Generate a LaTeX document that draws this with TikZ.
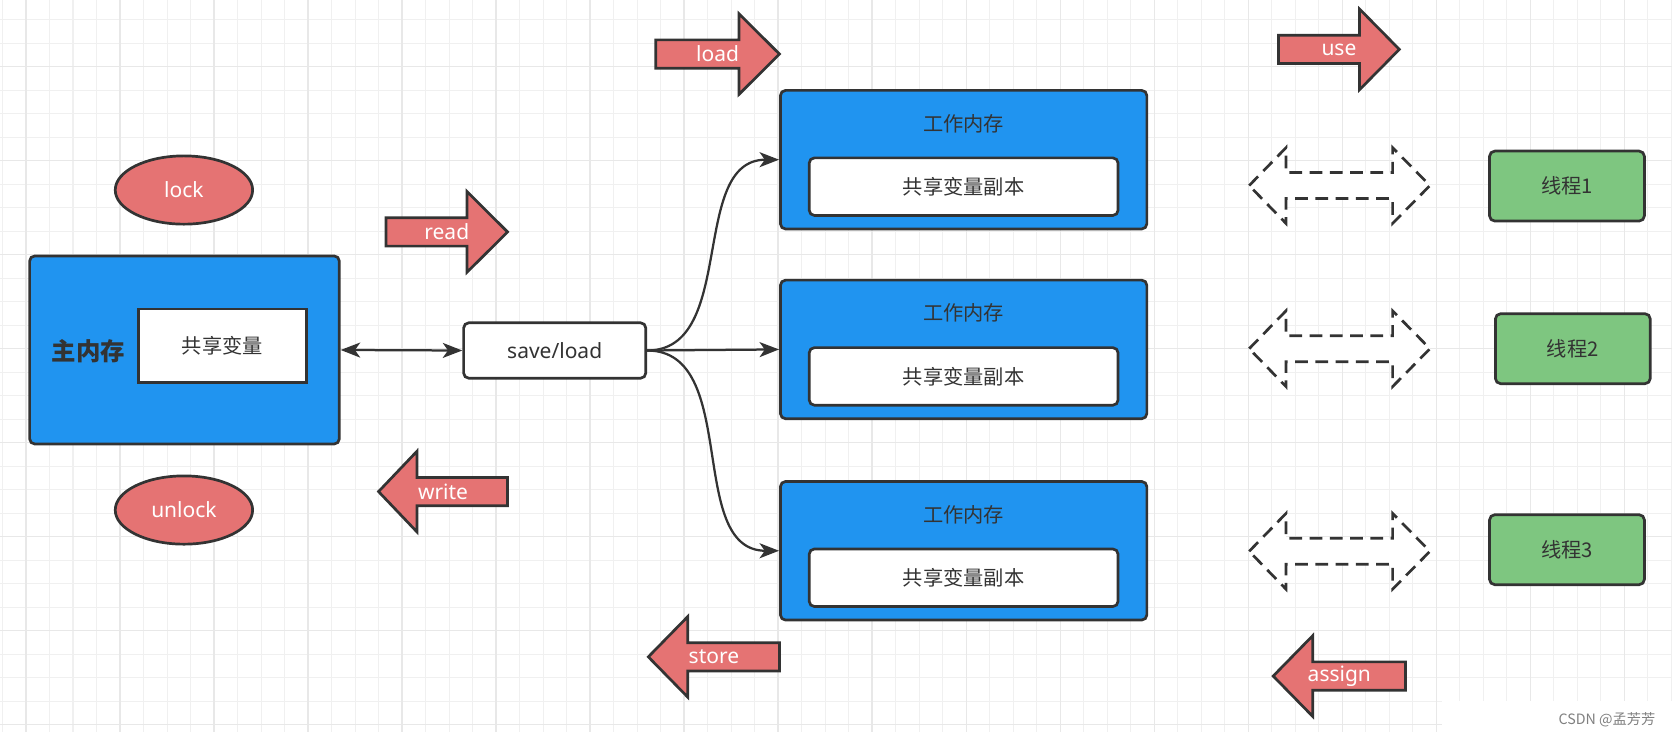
\documentclass[tikz,border=0pt]{standalone}
\usepackage{fontspec}
\setmainfont{Noto Sans}
\newfontfamily\cjk{Noto Sans CJK SC}
\usetikzlibrary{arrows.meta,calc,positioning,shapes.geometric}

\begin{document}
\begin{tikzpicture}[x=0.025cm, y=-0.025cm, >={Stealth[length=13pt, width=10pt, inset=3.5pt]},
  gridline/.style={draw=gridlight, line width=0.7pt},
  gridmajor/.style={draw=griddark, line width=0.8pt},
  box/.style={draw=ink, line width=1.8pt, rounded corners=3.5pt},
  memory/.style={box, fill=memblue, minimum width=7.26cm, minimum height=4.41cm},
  worker/.style={box, fill=memblue, minimum width=8.59cm, minimum height=3.25cm},
  varbox/.style={draw=ink, line width=1.8pt, fill=white, minimum width=3.93cm, minimum height=1.72cm, text=ink, font=\cjk\fontsize{13.5}{16}\selectfont},
  copybox/.style={box, fill=white, minimum width=7.24cm, minimum height=1.35cm, text=ink, font=\cjk\fontsize{13.5}{16}\selectfont},
  thread/.style={box, fill=thrgreen, minimum width=3.63cm, minimum height=1.64cm, text=ink, font=\cjk\fontsize{13.5}{16}\selectfont},
  lockop/.style={ellipse, draw=ink, line width=1.8pt, fill=opred, minimum width=3.22cm, minimum height=1.6cm, text=white, font=\fontsize{14}{16}\selectfont},
  oplbl/.style={text=white, font=\fontsize{14}{16}\selectfont},
  cjklbl/.style={text=ink, font=\cjk\fontsize{13.5}{16}\selectfont},
  conn/.style={draw=ink, line width=1.5pt},
  blockarrow/.style={draw=ink, line width=1.8pt, fill=opred, line join=miter},
  dasharrow/.style={draw=ink, line width=1.8pt, fill=white, dash pattern=on 8.5pt off 5pt}]
  \definecolor{ink}{HTML}{333333}
  \definecolor{memblue}{HTML}{2094F0}
  \definecolor{opred}{HTML}{E57373}
  \definecolor{thrgreen}{HTML}{7EC680}
  \definecolor{gridlight}{HTML}{F0F0F0}
  \definecolor{griddark}{HTML}{E8E8E8}
  \definecolor{wmgray}{HTML}{808080}
  \useasboundingbox (0,0) rectangle (1568,686);
  \fill[white] (0,0) rectangle (1568,686);

  \foreach \i in {0,...,71} \draw[gridline] ({2.36+22.04*\i},0) -- ++(0,686);
  \foreach \i in {0,...,30} \draw[gridline] (0,{18.47+22.04*\i}) -- ++(1568,0);
  \foreach \i in {0,...,17} \draw[gridmajor] ({24.4+88.16*\i},0) -- ++(0,686);
  \foreach \i in {0,...,7} \draw[gridmajor] (0,{62.55+88.16*\i}) -- ++(1568,0);

  \node[lockop] (lock) at (172.5,178.2) {lock};
  \node[lockop] (unlock) at (172.5,478.3) {unlock};

  \node[memory] (mm) at (173,328.2) {};
  \node[text=ink, font=\cjk\bfseries\fontsize{16.3}{19}\selectfont] (mmlbl) at (83,329) {主内存};
  \node[varbox] (var) at (208.5,324.3) {共享变量};

  \node[box, fill=white, minimum width=4.27cm, minimum height=1.3cm, text=ink, font=\fontsize{14}{16}\selectfont] (sl) at (520.2,328.7) {save/load};
  \draw[conn, <->] (mm.east) -- (sl.west);

  \foreach \cy/\n in {149.75/1, 327.7/2, 516.5/3} {
    \node[worker] (wm\n) at (903.7,\cy) {};
    \node[cjklbl] (wml\n) at ($(wm\n)+(0,-34)$) {工作内存};
    \node[copybox] (cp\n) at ($(wm\n)+(0,25.3)$) {共享变量副本};
  }
  \draw[conn, ->] (sl.east) to[out=0, in=180] (wm1.west);
  \draw[conn, ->] (sl.east) -- (wm2.west);
  \draw[conn, ->] (sl.east) to[out=0, in=180] (wm3.west);

  \foreach \tx/\bx/\hx/\cy/\name/\txt in {615/693/731/50.7/opload/load, 362/438/476/217.5/opread/read,
      1199/1275/1312.3/46.3/opuse/use, 476/391/355/461/opwrite/write,
      731/645/608/616/opstore/store, 1318/1231/1194/634/opassign/assign} {
    \draw[blockarrow] (\tx,\cy-13.3) -- (\bx,\cy-13.3) -- (\bx,\cy-37.8) -- (\hx,\cy)
      -- (\bx,\cy+37.8) -- (\bx,\cy+13.3) -- (\tx,\cy+13.3) -- cycle;
    \node[oplbl] (\name) at ({(\tx+\hx)/2},\cy) {\txt};
  }

  \foreach \cy in {174, 327, 517}
    \draw[dasharrow] (1171.5,\cy) -- (1206,\cy-35.5) -- (1206,\cy-12.2) -- (1306,\cy-12.2) -- (1306,\cy-35.5)
      -- (1341,\cy) -- (1306,\cy+35.5) -- (1306,\cy+12.2) -- (1206,\cy+12.2) -- (1206,\cy+35.5) -- cycle;

  \foreach \x/\cy/\n in {1469.5/174.5/1, 1475/327/2, 1469.5/515.5/3}
    \node[thread] (t\n) at (\x,\cy) {线程\n};

  \fill[white] (1352,657) rectangle (1568,686);
  \node[text=wmgray, font=\cjk\fontsize{9.5}{11}\selectfont] (mark) at (1507,675) {CSDN @孟芳芳};
\end{tikzpicture}
\end{document}
